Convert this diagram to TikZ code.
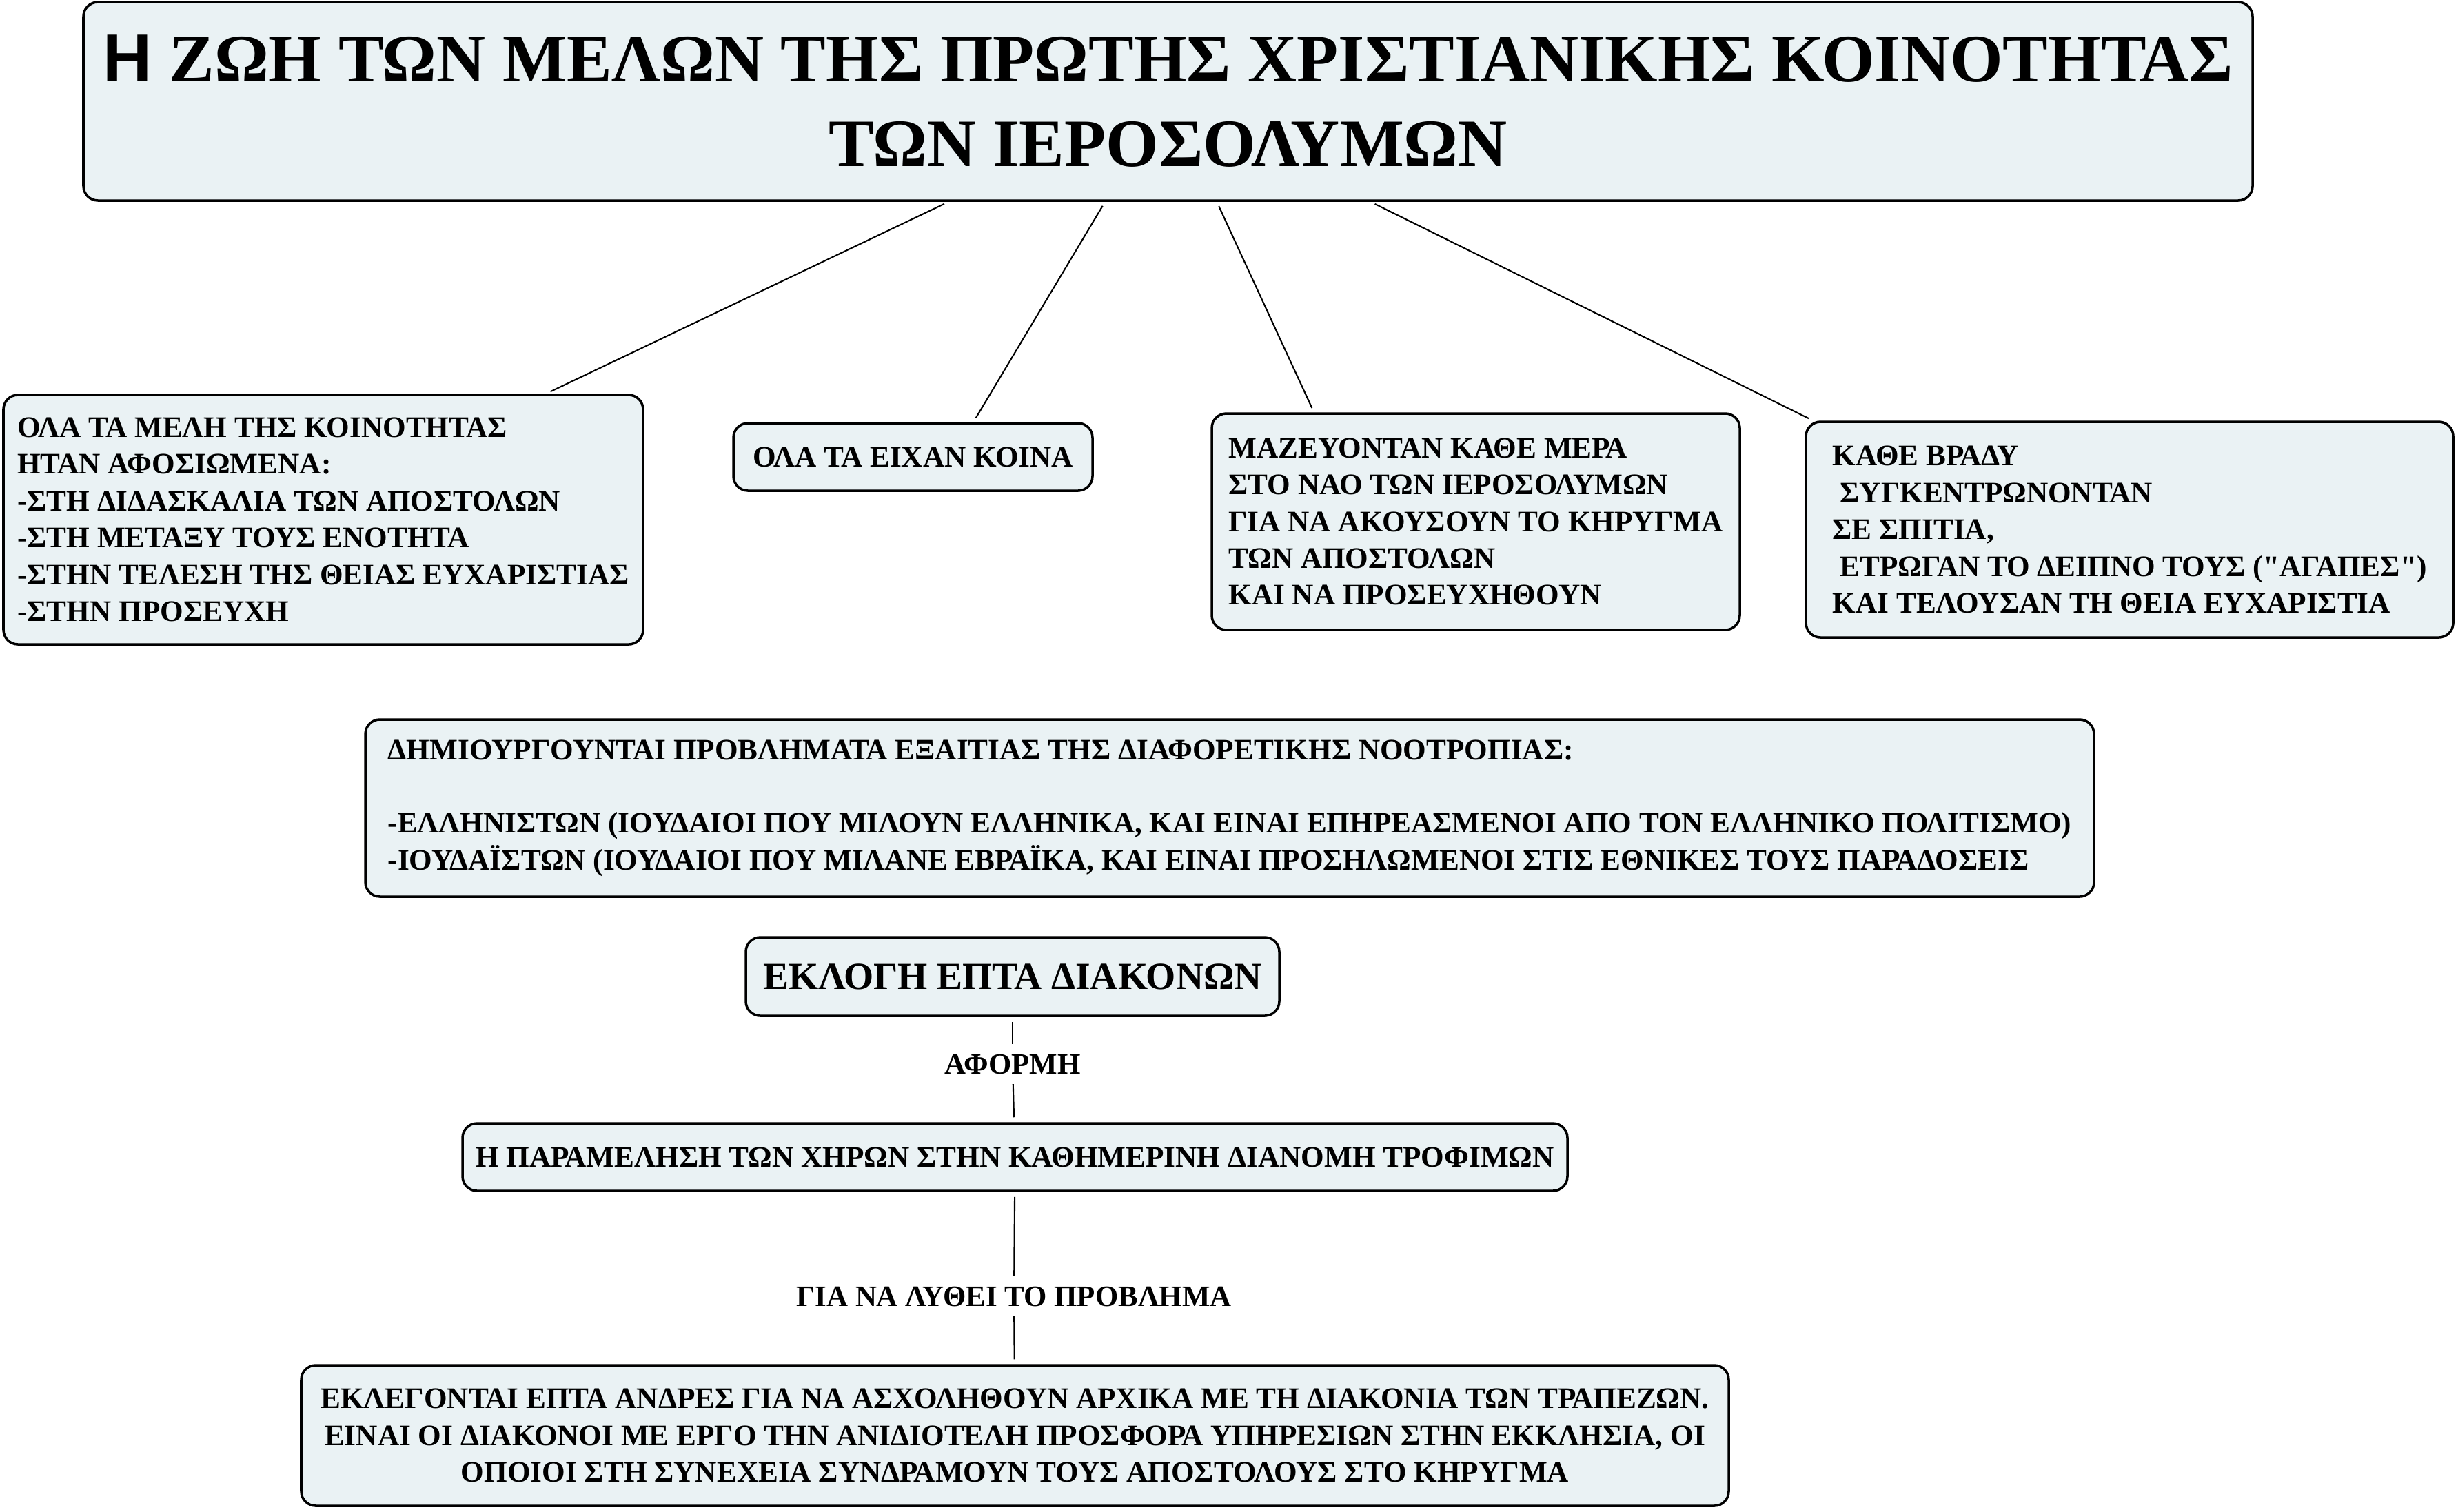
\documentclass[tikz,border=0pt]{standalone}
\usepackage{fontspec}
\setmainfont{Liberation Serif}
\newfontfamily\headsans{Liberation Sans}
\usetikzlibrary{calc}
\definecolor{Pale}{HTML}{EAF2F4}
\definecolor{Ink}{HTML}{000000}

\begin{document}
\begin{tikzpicture}[
    concept/.style={draw=Ink,fill=Pale,line width=1pt,rounded corners=6pt,
      inner sep=0pt,align=left,font=\bfseries\fontsize{12.3}{15.2}\selectfont},
    linkword/.style={inner sep=2pt,font=\bfseries\fontsize{12.2}{14}\selectfont},
    link/.style={draw=Ink,line width=0.6pt,shorten <=2pt,shorten >=2pt}
  ]
    \useasboundingbox (0,0) rectangle (35.66,-21.93);
    % title
    \node[concept,align=center,minimum width=31.47cm,minimum height=2.88cm,
      font=\bfseries\fontsize{28}{35}\selectfont] (title) at (16.945,-1.47)
      {{\headsans Η} ΖΩΗ ΤΩΝ ΜΕΛΩΝ ΤΗΣ ΠΡΩΤΗΣ ΧΡΙΣΤΙΑΝΙΚΗΣ ΚΟΙΝΟΤΗΤΑΣ\\
       ΤΩΝ ΙΕΡΟΣΟΛΥΜΩΝ};
    % first row
    \node[concept,minimum width=9.28cm,minimum height=3.62cm] (members) at (4.69,-7.54)
      {ΟΛΑ ΤΑ ΜΕΛΗ ΤΗΣ ΚΟΙΝΟΤΗΤΑΣ\\
       ΗΤΑΝ ΑΦΟΣΙΩΜΕΝΑ:\\
       -ΣΤΗ ΔΙΔΑΣΚΑΛΙΑ ΤΩΝ ΑΠΟΣΤΟΛΩΝ\\
       -ΣΤΗ ΜΕΤΑΞΥ ΤΟΥΣ ΕΝΟΤΗΤΑ\\
       -ΣΤΗΝ ΤΕΛΕΣΗ ΤΗΣ ΘΕΙΑΣ ΕΥΧΑΡΙΣΤΙΑΣ\\
       -ΣΤΗΝ ΠΡΟΣΕΥΧΗ};
    \node[concept,minimum width=5.21cm,minimum height=0.98cm] (common) at (13.245,-6.63)
      {ΟΛΑ ΤΑ ΕΙΧΑΝ ΚΟΙΝΑ};
    \node[concept,minimum width=7.66cm,minimum height=3.14cm] (temple) at (21.41,-7.57)
      {ΜΑΖΕΥΟΝΤΑΝ ΚΑΘΕ ΜΕΡΑ\\
       ΣΤΟ ΝΑΟ ΤΩΝ ΙΕΡΟΣΟΛΥΜΩΝ\\
       ΓΙΑ ΝΑ ΑΚΟΥΣΟΥΝ ΤΟ ΚΗΡΥΓΜΑ\\
       ΤΩΝ ΑΠΟΣΤΟΛΩΝ\\
       ΚΑΙ ΝΑ ΠΡΟΣΕΥΧΗΘΟΥΝ};
    \node[concept,minimum width=9.39cm,minimum height=3.13cm] (evening) at (30.895,-7.685)
      {ΚΑΘΕ ΒΡΑΔΥ\\
       \hspace*{0.25em}ΣΥΓΚΕΝΤΡΩΝΟΝΤΑΝ\\
       ΣΕ ΣΠΙΤΙΑ,\\
       \hspace*{0.25em}ΕΤΡΩΓΑΝ ΤΟ ΔΕΙΠΝΟ ΤΟΥΣ (\textquotedbl ΑΓΑΠΕΣ\textquotedbl)\\
       ΚΑΙ ΤΕΛΟΥΣΑΝ ΤΗ ΘΕΙΑ ΕΥΧΑΡΙΣΤΙΑ};
    % problems
    \node[concept,minimum width=25.08cm,minimum height=2.57cm] (problems) at (17.84,-11.725)
      {ΔΗΜΙΟΥΡΓΟΥΝΤΑΙ ΠΡΟΒΛΗΜΑΤΑ ΕΞΑΙΤΙΑΣ ΤΗΣ ΔΙΑΦΟΡΕΤΙΚΗΣ ΝΟΟΤΡΟΠΙΑΣ:\\[15.2pt]
       -ΕΛΛΗΝΙΣΤΩΝ (ΙΟΥΔΑΙΟΙ ΠΟΥ ΜΙΛΟΥΝ ΕΛΛΗΝΙΚΑ, ΚΑΙ ΕΙΝΑΙ ΕΠΗΡΕΑΣΜΕΝΟΙ ΑΠΟ ΤΟΝ ΕΛΛΗΝΙΚΟ ΠΟΛΙΤΙΣΜΟ)\\
       -ΙΟΥΔΑΪΣΤΩΝ (ΙΟΥΔΑΙΟΙ ΠΟΥ ΜΙΛΑΝΕ ΕΒΡΑΪΚΑ, ΚΑΙ ΕΙΝΑΙ ΠΡΟΣΗΛΩΜΕΝΟΙ ΣΤΙΣ ΕΘΝΙΚΕΣ ΤΟΥΣ ΠΑΡΑΔΟΣΕΙΣ};
    % deacons
    \node[concept,minimum width=7.74cm,minimum height=1.14cm,
      font=\bfseries\fontsize{15.8}{18}\selectfont] (deacons) at (14.69,-14.17)
      {ΕΚΛΟΓΗ ΕΠΤΑ ΔΙΑΚΟΝΩΝ};
    \node[linkword] (cause) at (14.69,-15.44) {ΑΦΟΡΜΗ};
    \node[concept,minimum width=16.03cm,minimum height=0.98cm] (widows) at (14.725,-16.79)
      {Η ΠΑΡΑΜΕΛΗΣΗ ΤΩΝ ΧΗΡΩΝ ΣΤΗΝ ΚΑΘΗΜΕΡΙΝΗ ΔΙΑΝΟΜΗ ΤΡΟΦΙΜΩΝ};
    \node[linkword] (solve) at (14.71,-18.81) {ΓΙΑ ΝΑ ΛΥΘΕΙ ΤΟ ΠΡΟΒΛΗΜΑ};
    \node[concept,align=center,minimum width=20.71cm,minimum height=2.04cm] (seven) at (14.725,-20.83)
      {ΕΚΛΕΓΟΝΤΑΙ ΕΠΤΑ ΑΝΔΡΕΣ ΓΙΑ ΝΑ ΑΣΧΟΛΗΘΟΥΝ ΑΡΧΙΚΑ ΜΕ ΤΗ ΔΙΑΚΟΝΙΑ ΤΩΝ ΤΡΑΠΕΖΩΝ.\\
       ΕΙΝΑΙ ΟΙ ΔΙΑΚΟΝΟΙ ΜΕ ΕΡΓΟ ΤΗΝ ΑΝΙΔΙΟΤΕΛΗ ΠΡΟΣΦΟΡΑ ΥΠΗΡΕΣΙΩΝ ΣΤΗΝ ΕΚΚΛΗΣΙΑ, ΟΙ\\
       ΟΠΟΙΟΙ ΣΤΗ ΣΥΝΕΧΕΙΑ ΣΥΝΔΡΑΜΟΥΝ ΤΟΥΣ ΑΠΟΣΤΟΛΟΥΣ ΣΤΟ ΚΗΡΥΓΜΑ};
    % connectors
    \draw[link] ($(title.south west)+(12.57,0)$) -- ($(members.north west)+(7.89,0)$);
    \draw[link] ($(title.south west)+(14.84,0)$) -- ($(common.north west)+(3.50,0)$);
    \draw[link] ($(title.south west)+(16.46,0)$) -- ($(temple.north west)+(1.50,0)$);
    \draw[link] ($(title.south west)+(18.69,0)$) -- ($(evening.north west)+(0.12,0)$);
    \draw[link] (deacons) -- (cause);
    \draw[link] (cause) -- (widows);
    \draw[link] (widows) -- (solve);
    \draw[link] (solve) -- (seven);
  \end{tikzpicture}
\end{document}
